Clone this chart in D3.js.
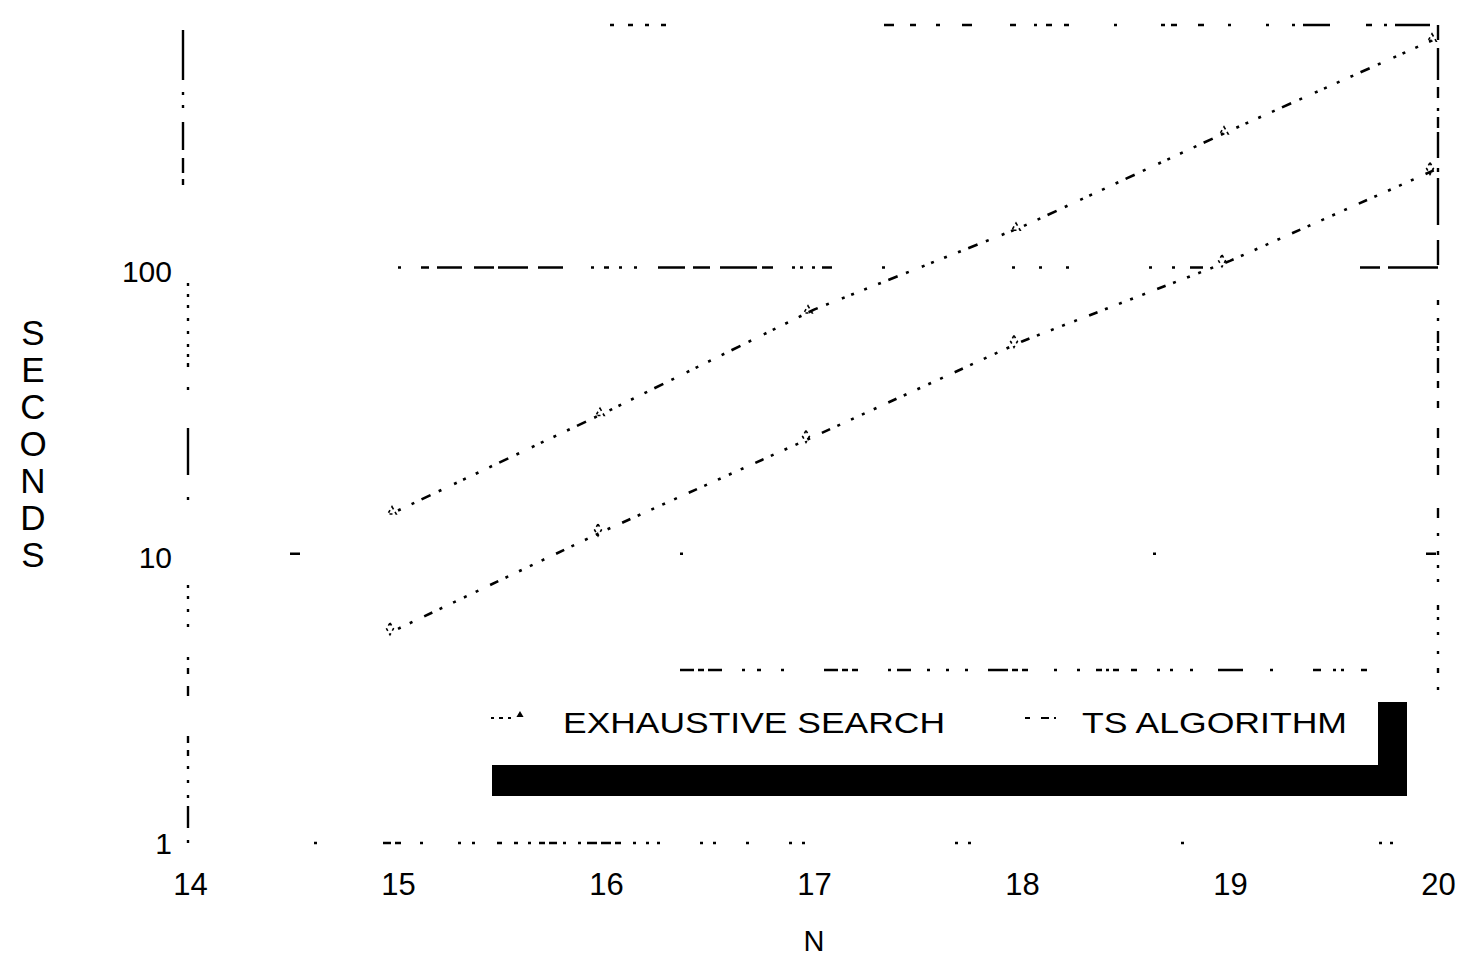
<!DOCTYPE html>
<html>
<head>
<meta charset="utf-8">
<script src="https://cdn.jsdelivr.net/npm/d3@7"></script>
<style>
  body { margin: 0; background: #fff; }
  svg { display: block; }
  text { font-family: "Liberation Sans", Arial, sans-serif; fill: #000; }
</style>
</head>
<body>
<svg id="chart" width="1459" height="957"></svg>
<script>
// ---- data ----
const xTickValues = [14, 15, 16, 17, 18, 19, 20];
const nValues = [15, 16, 17, 18, 19, 20];
const exhaustiveSeconds = [14.5, 32, 73, 142, 308, 650];
const tsSeconds = [5.6, 12.4, 26.3, 56.5, 108, 227];
const yTickValues = [1, 10, 100];
const seriesNames = ["EXHAUSTIVE SEARCH", "TS ALGORITHM"];
const xTitle = "N";
const yTitle = "SECONDS";
const xDomain = [14, 20];
const yDomain = [1, 720];

// ---- layout ----
const svg = d3.select("#chart");
const plot = { left: 190, right: 1438, top: 25, bottom: 843 };

const x = d3.scaleLinear().domain(xDomain).range([plot.left, plot.right]);
const y = d3.scaleLog().domain(yDomain).range([plot.bottom, plot.top]);

const ink = "#000";
const seg = (x1, y1, x2, y2, dash, w) =>
  svg.append("line")
    .attr("x1", x1).attr("y1", y1).attr("x2", x2).attr("y2", y2)
    .attr("stroke", ink).attr("stroke-width", w || 2.4)
    .attr("stroke-dasharray", dash || null);

// ---- frame: worn plotter strokes ----
const xl = x(14) - 2;
// left axis, lower two decades (drawn bottom-up)
seg(xl, y(1), xl, y(100),
  "3,12,22,8,3,12,3,11,3,10,6,7,7,40,10,12,6,8,3,30,3,12,3,10,3,8,3,85,3,22,47,38,3,20,4,6,3,7,3,10,3,10,3,10,3,8,3,8,3,400");
// left axis, upper part (drawn top-down)
seg(xl - 5, y(yDomain[1]) + 5, xl - 5, y(100) - 4, "50,12,3,10,3,14,28,8,15,6,6,400");
// top edge
seg(x(14), y(yDomain[1]), x(20), y(yDomain[1]),
  "0,420,4,14,5,12,4,12,5,218,10,16,6,20,4,22,10,38,6,18,3,9,6,12,5,45,3,44,4,6,6,21,6,24,3,35,3,23,3,8,27,36,6,12,3,8,35,600");
// right edge (top-down)
seg(x(20), y(yDomain[1]), x(20), y(3.4),
  "15,8,32,7,11,10,3,6,11,4,26,10,4,6,47,15,25,35,5,13,3,10,12,3,5,7,15,8,7,13,7,20,10,10,10,7,10,33,10,15,3,15,4,10,3,11,3,23,5,7,3,12,3,16,3,14,5,14,3,12,3,600");
// bottom edge
seg(x(14), y(1), x(20), y(1),
  "0,124,3,66,8,4,6,19,3,35,3,11,3,22,5,12,4,10,3,8,6,4,8,6,3,12,3,6,10,4,10,4,6,12,3,10,3,8,3,40,3,10,3,30,3,40,3,10,3,150,3,10,3,210,3,195,3,8,3,600");

// reference line at 100 s
seg(x(15), y(100) - 3, x(20), y(100) - 3,
  "3,20,8,8,25,12,20,4,30,10,25,28,3,10,5,10,3,12,3,21,27,8,17,10,37,5,11,19,3,5,3,9,3,7,10,50,3,127,3,24,3,24,3,80,3,20,3,15,13,157,20,8,50,400");
// sparse remains of the 10 s line
seg(x(14), y(10) - 3, x(20), y(10) - 3, "0,100,10,380,3,470,3,270,10,400");

// ---- axes (labels only; frame drawn above) ----
const yAxis = d3.axisLeft(y).tickValues(yTickValues).tickFormat(d3.format("d"))
  .tickSize(0).tickPadding(16);
svg.append("g").attr("transform", `translate(${xl},0)`).call(yAxis)
  .call(g => g.select(".domain").remove())
  .selectAll("text")
  .attr("font-family", "Liberation Sans, Arial, sans-serif")
  .attr("font-size", 30).attr("dy", "0.36em");

const xAxis = d3.axisBottom(x).tickValues(xTickValues).tickFormat(d3.format("d"))
  .tickSize(0).tickPadding(30);
svg.append("g").attr("transform", `translate(0,${plot.bottom})`).call(xAxis)
  .call(g => g.select(".domain").remove())
  .selectAll("text")
  .attr("font-family", "Liberation Sans, Arial, sans-serif")
  .attr("font-size", 31).attr("dy", "0.71em");

// axis titles
svg.append("text").attr("x", x(17)).attr("y", 951)
  .attr("text-anchor", "middle").attr("font-size", 29).text(xTitle);

svg.append("g").selectAll("text").data(yTitle.split("")).join("text")
  .attr("x", 33).attr("y", (d, i) => 345 + i * 37)
  .attr("text-anchor", "middle").attr("font-size", 35)
  .text(d => d);

// ---- series ----
const line = d3.line().x(d => x(d[0])).y(d => y(d[1]));
const exhaustive = nValues.map((n, i) => [n, exhaustiveSeconds[i]]);
const ts = nValues.map((n, i) => [n, tsSeconds[i]]);

svg.append("path").datum(exhaustive).attr("d", line)
  .attr("fill", "none").attr("stroke", ink).attr("stroke-width", 2.6)
  .attr("stroke-dasharray", "3,12,3,8,10,9,3,14,3,7,3,11");
svg.append("path").datum(ts).attr("d", line)
  .attr("fill", "none").attr("stroke", ink).attr("stroke-width", 2.6)
  .attr("stroke-dasharray", "3,10,3,13,9,8,3,12,3,9");

// point markers
svg.append("g").selectAll("path").data(exhaustive).join("path")
  .attr("transform", d => `translate(${x(d[0]) - 6},${y(d[1]) + 1})`)
  .attr("d", d3.symbol(d3.symbolTriangle, 30))
  .attr("fill", "none").attr("stroke", ink).attr("stroke-width", 1.6)
  .attr("stroke-dasharray", "3,3");
svg.append("g").selectAll("path").data(ts).join("path")
  .attr("transform", d => `translate(${x(d[0]) - 8},${y(d[1])})`)
  .attr("d", d3.symbol(d3.symbolDiamond, 40))
  .attr("fill", "none").attr("stroke", ink).attr("stroke-width", 1.6)
  .attr("stroke-dasharray", "3,3");

// ---- legend with heavy drop shadow ----
const lg = svg.append("g");
lg.append("rect").attr("x", 492).attr("y", 765).attr("width", 915).attr("height", 31).attr("fill", ink);
lg.append("rect").attr("x", 1378).attr("y", 702).attr("width", 29).attr("height", 94).attr("fill", ink);
lg.append("line").attr("x1", 680).attr("x2", 1378).attr("y1", 670).attr("y2", 670)
  .attr("stroke", ink).attr("stroke-width", 2.4)
  .attr("stroke-dasharray", "14,4,6,4,14,20,3,12,4,20,3,40,14,4,6,4,6,30,3,6,14,16,3,16,3,16,3,20,20,4,6,4,6,26,3,20,3,16,6,4,3,4,6,12,6,20,3,10,3,17,3,25,25,27,3,40,8,12,3,5,3,17,6,12,3,400");

// sample strokes
lg.append("line").attr("x1", 491).attr("x2", 516).attr("y1", 718).attr("y2", 718)
  .attr("stroke", ink).attr("stroke-width", 2.2).attr("stroke-dasharray", "3,5,4,5");
lg.append("path").attr("transform", "translate(520,715)")
  .attr("d", d3.symbol(d3.symbolTriangle, 22)).attr("fill", ink);
lg.append("line").attr("x1", 1025).attr("x2", 1056).attr("y1", 718).attr("y2", 718)
  .attr("stroke", ink).attr("stroke-width", 2.2).attr("stroke-dasharray", "5,11,8");

lg.append("text").attr("x", 563).attr("y", 733).attr("font-size", 30)
  .attr("textLength", 382).attr("lengthAdjust", "spacingAndGlyphs").text(seriesNames[0]);
lg.append("text").attr("x", 1082).attr("y", 733).attr("font-size", 30)
  .attr("textLength", 265).attr("lengthAdjust", "spacingAndGlyphs").text(seriesNames[1]);
</script>
</body>
</html>
